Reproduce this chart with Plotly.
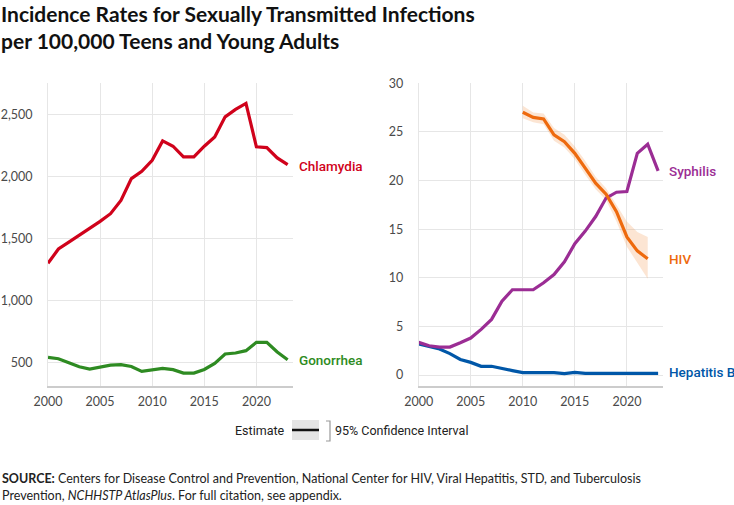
import plotly.graph_objects as go

years = list(range(2000, 2024))
chlamydia = [1300, 1415, 1470, 1525, 1585, 1637, 1699, 1806, 1981, 2040, 2129, 2285,
             2242, 2156, 2156, 2242, 2317, 2478, 2538, 2586, 2237, 2231, 2148, 2094]
gonorrhea = [543, 532, 500, 468, 449, 462, 481, 484, 470, 430, 441, 454,
             444, 417, 417, 446, 495, 570, 578, 597, 664, 664, 586, 524]
syphilis = [3.36, 3.01, 2.88, 2.88, 3.32, 3.8, 4.69, 5.72, 7.6, 8.77, 8.77, 8.77,
            9.49, 10.34, 11.64, 13.5, 14.8, 16.3, 18.2, 18.8, 18.87, 22.8, 23.73, 21.0]
hepb = [3.19, 2.9, 2.67, 2.2, 1.6, 1.3, 0.9, 0.9, 0.65, 0.45, 0.25, 0.25,
        0.25, 0.25, 0.15, 0.27, 0.17, 0.17, 0.17, 0.17, 0.17, 0.17, 0.17, 0.17]
hiv_years = list(range(2010, 2023))
hiv = [27.02, 26.5, 26.34, 24.7, 24.0, 22.8, 21.27, 19.73, 18.6, 16.8, 14.2, 12.77, 11.95]
hiv_low = [26.4, 26.0, 25.8, 24.1, 23.4, 22.2, 20.6, 19.1, 18.0, 15.8, 13.2, 11.5, 9.9]
hiv_high = [27.7, 27.0, 26.9, 25.4, 24.7, 23.5, 22.0, 20.4, 19.2, 17.5, 15.8, 14.7, 14.2]

x_ticks = [2000, 2005, 2010, 2015, 2020]
left_ticks = [500, 1000, 1500, 2000, 2500]
right_ticks = [0, 5, 10, 15, 20, 25, 30]

C_CHL = "#D0021B"
C_GON = "#2E8B22"
C_SYP = "#9B2D94"
C_HIV = "#EE6A0E"
C_HEP = "#0057A8"

TICKFONT = dict(family="Lato, Roboto, sans-serif", size=12.5, color="#4a4a4a")
LABELFONT = "Roboto, Lato, sans-serif"
XMAX = 2023.5

fig = go.Figure()

# Left panel
fig.add_trace(go.Scatter(x=years, y=chlamydia, mode="lines", line=dict(color=C_CHL, width=3.2),
                         xaxis="x", yaxis="y", showlegend=False))
fig.add_trace(go.Scatter(x=years, y=gonorrhea, mode="lines", line=dict(color=C_GON, width=3.2),
                         xaxis="x", yaxis="y", showlegend=False))

# Right panel
fig.add_trace(go.Scatter(x=hiv_years, y=hiv_high, mode="lines", line=dict(width=0, color="rgba(0,0,0,0)"),
                         xaxis="x2", yaxis="y2", showlegend=False, hoverinfo="skip"))
fig.add_trace(go.Scatter(x=hiv_years, y=hiv_low, mode="lines", line=dict(width=0, color="rgba(0,0,0,0)"),
                         fill="tonexty", fillcolor="rgba(244,150,80,0.25)",
                         xaxis="x2", yaxis="y2", showlegend=False, hoverinfo="skip"))
fig.add_trace(go.Scatter(x=years, y=hepb, mode="lines", line=dict(color=C_HEP, width=3.2),
                         xaxis="x2", yaxis="y2", showlegend=False))
fig.add_trace(go.Scatter(x=years, y=syphilis, mode="lines", line=dict(color=C_SYP, width=3.2),
                         xaxis="x2", yaxis="y2", showlegend=False))
fig.add_trace(go.Scatter(x=hiv_years, y=hiv, mode="lines", line=dict(color=C_HIV, width=3.2),
                         xaxis="x2", yaxis="y2", showlegend=False))

ydom = [0.2362, 0.835]
xax = dict(range=[2000, XMAX], tickvals=x_ticks, showgrid=True, gridcolor="#e6e6e6", gridwidth=1,
           showline=True, linecolor="#cccccc", linewidth=1.5, zeroline=False,
           ticks="outside", ticklen=4, tickcolor="rgba(0,0,0,0)", tickfont=TICKFONT,
           fixedrange=True, automargin=False)
yax = dict(showgrid=True, gridcolor="#e6e6e6", gridwidth=1, zeroline=False,
           showline=True, linecolor="#e6e6e6", linewidth=1,
           ticks="outside", ticklen=12, tickcolor="rgba(0,0,0,0)", tickfont=TICKFONT,
           fixedrange=True, automargin=False)

fig.update_layout(
    width=734, height=505,
    margin=dict(l=0, r=0, t=0, b=0, autoexpand=False),
    paper_bgcolor="white", plot_bgcolor="white",
    xaxis=dict(domain=[0.0654, 0.399], anchor="y", **xax),
    yaxis=dict(domain=ydom, anchor="x", range=[315, 2748], tickvals=left_ticks,
               tickformat=",d", **yax),
    xaxis2=dict(domain=[0.5704, 0.9037], anchor="y2", **xax),
    yaxis2=dict(domain=ydom, anchor="x2", range=[-1.1, 30], tickvals=right_ticks, **yax),
)

# Series labels at line ends
labels = [
    ("Chlamydia", "x", "y", chlamydia[-1] - 10, C_CHL),
    ("Gonorrhea", "x", "y", gonorrhea[-1], C_GON),
    ("Syphilis", "x2", "y2", syphilis[-1], C_SYP),
    ("HIV", "x2", "y2", hiv[-1], C_HIV),
    ("Hepatitis B", "x2", "y2", hepb[-1] + 0.15, C_HEP),
]
for text, xr, yr, yv, col in labels:
    fig.add_annotation(x=XMAX - 0.001, y=yv, xref=xr, yref=yr, text=text, showarrow=False,
                       xanchor="left", yanchor="middle", xshift=4,
                       font=dict(family=LABELFONT, size=13.5, color=col, weight=500))

TITLEFONT = dict(family="Lato, Roboto, sans-serif", size=21, color="#111111", weight="bold")
fig.add_annotation(x=0, y=1, xref="paper", yref="paper", xanchor="left", yanchor="top",
                   align="left", borderpad=0,
                   text="Incidence Rates for Sexually Transmitted Infections<br>per 100,000 Teens and Young Adults",
                   showarrow=False, font=TITLEFONT)

# Legend
LEGFONT = dict(family="Roboto, Lato, sans-serif", size=12.5, color="#222222")
ly = 1 - 430 / 505
fig.add_annotation(x=287 / 734, y=ly, xref="paper", yref="paper", xanchor="right", yanchor="middle",
                   text="Estimate", showarrow=False, font=LEGFONT)
fig.add_annotation(x=333 / 734, y=ly, xref="paper", yref="paper", xanchor="left", yanchor="middle",
                   text="95% Confidence Interval", showarrow=False, font=LEGFONT)
fig.add_shape(type="rect", xref="paper", yref="paper", x0=292 / 734, x1=319 / 734,
              y0=1 - 440 / 505, y1=1 - 420 / 505, fillcolor="#e4e4e4", line=dict(width=0))
fig.add_shape(type="line", xref="paper", yref="paper", x0=292 / 734, x1=319 / 734,
              y0=ly, y1=ly, line=dict(color="#111111", width=2.5))
fig.add_shape(type="path", xref="paper", yref="paper",
              path=f"M {326/734} {1-421/505} L {330/734} {1-421/505} L {330/734} {1-441/505} L {326/734} {1-441/505}",
              line=dict(color="#999999", width=1.2))

# Source
SRCFONT = dict(family="Lato, Roboto, sans-serif", size=12.5, color="#222222")
fig.add_annotation(x=0, y=1 - 478 / 505, xref="paper", yref="paper", xanchor="left", yanchor="middle",
                   text="<b>SOURCE:</b> Centers for Disease Control and Prevention, National Center for HIV, Viral Hepatitis, STD, and Tuberculosis",
                   showarrow=False, font=SRCFONT)
fig.add_annotation(x=0, y=1 - 495 / 505, xref="paper", yref="paper", xanchor="left", yanchor="middle",
                   text="Prevention, <i>NCHHSTP AtlasPlus</i>. For full citation, see appendix.",
                   showarrow=False, font=SRCFONT)

fig.write_html("out.html")
